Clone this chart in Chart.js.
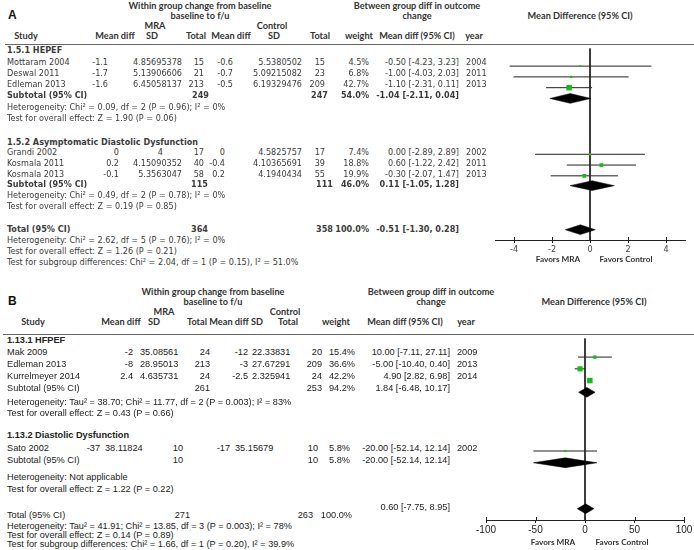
<!DOCTYPE html>
<html>
<head>
<meta charset="utf-8">
<title>MRA forest plots</title>
<script src="https://cdn.jsdelivr.net/npm/chart.js@4.4.1/dist/chart.umd.min.js"></script>
<style>
  html, body { margin: 0; padding: 0; background: #fff; }
  #page { position: relative; width: 694px; height: 550px; overflow: hidden; }
  .t { position: absolute; white-space: nowrap; line-height: 1; transform: translateY(-50%); }
  .a { font-family: "DejaVu Sans Condensed", "DejaVu Sans", sans-serif; font-size: 9px; color: #3c3c3c; }
  .b { font-family: "Liberation Sans", Arial, sans-serif; font-size: 9.2px; color: #222; }
  .h { font-family: Lato, "Open Sans", sans-serif; font-weight: bold; font-size: 9.2px; color: #333; }
  .fav { font-family: Lato, "Open Sans", sans-serif; font-weight: bold; font-size: 8.2px; color: #333; }
  .big { font-family: "Liberation Sans", Arial, sans-serif; font-weight: bold; font-size: 12px; color: #111; }
  .bold { font-weight: bold; }
  .rule { position: absolute; height: 1px; background: #666; }
  canvas { position: absolute; }
</style>
</head>
<body>
<div id="page">
  <canvas id="forestA"></canvas>
  <canvas id="forestB"></canvas>
</div>
<script>
// ---------- Panel A data ----------
const groupsA = ['1.5.1 HEPEF', '1.5.2 Asymptomatic Diastolic Dysfunction'];
const studiesA = ['Mottaram 2004', 'Deswal 2011', 'Edleman 2013', 'Grandi 2002', 'Kosmala 2011', 'Kosmala 2013'];
const studyGroupA = [0, 0, 0, 1, 1, 1];
const mraMeanA = ['-1.1', '-1.7', '-1.6', '0', '0.2', '-0.1'];
const mraSdA = ['4.85695378', '5.13906606', '6.45058137', '4', '4.15090352', '5.3563047'];
const mraTotalA = [15, 21, 213, 17, 40, 58];
const ctlMeanA = ['-0.6', '-0.7', '-0.5', '0', '-0.4', '0.2'];
const ctlSdA = ['5.5380502', '5.09215082', '6.19329476', '4.5825757', '4.10365691', '4.1940434'];
const ctlTotalA = [15, 23, 209, 17, 39, 55];
const weightA = [4.5, 6.8, 42.7, 7.4, 18.8, 19.9];
const mdA = [-0.50, -1.00, -1.10, 0.00, 0.60, -0.30];
const loA = [-4.23, -4.03, -2.31, -2.89, -1.22, -2.07];
const hiA = [3.23, 2.03, 0.11, 2.89, 2.42, 1.47];
const yearA = [2004, 2011, 2013, 2002, 2011, 2013];
const sumLabelA = ['Subtotal (95% CI)', 'Subtotal (95% CI)', 'Total (95% CI)'];
const sumMraTotalA = [249, 115, 364];
const sumCtlTotalA = [247, 111, 358];
const sumWeightA = [54.0, 46.0, 100.0];
const sumMdA = [-1.04, 0.11, -0.51];
const sumLoA = [-2.11, -1.05, -1.30];
const sumHiA = [0.04, 1.28, 0.28];
const hetA = [
  'Heterogeneity: Chi² = 0.09, df = 2 (P = 0.96); I² = 0%',
  'Heterogeneity: Chi² = 0.49, df = 2 (P = 0.78); I² = 0%',
  'Heterogeneity: Chi² = 2.62, df = 5 (P = 0.76); I² = 0%'
];
const effectA = [
  'Test for overall effect: Z = 1.90 (P = 0.06)',
  'Test for overall effect: Z = 0.19 (P = 0.85)',
  'Test for overall effect: Z = 1.26 (P = 0.21)'
];
const subgroupA = 'Test for subgroup differences: Chi² = 2.04, df = 1 (P = 0.15), I² = 51.0%';
const ticksA = [-4, -2, 0, 2, 4];

// ---------- Panel B data ----------
const groupsB = ['1.13.1 HFPEF', '1.13.2 Diastolic Dysfunction'];
const studiesB = ['Mak 2009', 'Edleman 2013', 'Kurrelmeyer 2014', 'Sato 2002'];
const studyGroupB = [0, 0, 0, 1];
const mraMeanB = ['-2', '-8', '2.4', '-37'];
const mraSdB = ['35.08561', '28.95013', '4.635731', '38.11824'];
const mraTotalB = [24, 213, 24, 10];
const ctlMeanB = ['-12', '-3', '-2.5', '-17'];
const ctlSdB = ['22.33831', '27.67291', '2.325941', '35.15679'];
const ctlTotalB = [20, 209, 24, 10];
const weightB = [15.4, 36.6, 42.2, 5.8];
const mdB = [10.00, -5.00, 4.90, -20.00];
const loB = [-7.11, -10.40, 2.82, -52.14];
const hiB = [27.11, 0.40, 6.98, 12.14];
const yearB = [2009, 2013, 2014, 2002];
const sumLabelB = ['Subtotal (95% CI)', 'Subtotal (95% CI)', 'Total (95% CI)'];
const sumMraTotalB = [261, 10, 271];
const sumCtlTotalB = [253, 10, 263];
const sumWeightB = [94.2, 5.8, 100.0];
const sumMdB = [1.84, -20.00, 0.60];
const sumLoB = [-6.48, -52.14, -7.75];
const sumHiB = [10.17, 12.14, 8.95];
const hetB = [
  'Heterogeneity: Tau² = 38.70; Chi² = 11.77, df = 2 (P = 0.003); I² = 83%',
  'Heterogeneity: Not applicable',
  'Heterogeneity: Tau² = 41.91; Chi² = 13.85, df = 3 (P = 0.003); I² = 78%'
];
const effectB = [
  'Test for overall effect: Z = 0.43 (P = 0.66)',
  'Test for overall effect: Z = 1.22 (P = 0.22)',
  'Test for overall effect: Z = 0.14 (P = 0.89)'
];
const subgroupB = 'Test for subgroup differences: Chi² = 1.66, df = 1 (P = 0.20), I² = 39.9%';
const ticksB = [-100, -50, 0, 50, 100];

// ---------- layout (page pixels) ----------
const GREEN = '#12bd12';
const AXIS_H = 22;     // room under the axis line for tick labels
const DIAMOND_H = 5;   // half height of summary diamonds
const SQUARE_K = 0.6;  // square radius per sqrt(weight)

const layoutA = {
  cls: 'a', ruleY: 44, ruleX: 5, top: 44, axisY: 240,
  areaLeft: 495, areaRight: 685, canvasLeft: 470, xMin: -5, xMax: 5,
  groupY: [50, 142], studyY: [62, 73, 84, 152, 163, 174],
  sumY: [95, 184, 229], sumCiY: [95, 184, 229], hetY: [107, 195, 240], effectY: [118, 206, 251], subgroupY: 262,
  sdAlign: 'right', boldSums: true,
  cols: [
    { mean: 108, sd: 182, sdShort: 163, tot: 204, cmean: 233, csd: 302, ctot: 325, weight: 369, ci: 459, year: 466 },
    { mean: 119, sd: 182, sdShort: 163, tot: 204, cmean: 225, csd: 302, ctot: 325, weight: 369, ci: 459, year: 466 }
  ],
  sumCols: [
    { tot: 209, ctot: 328, weight: 369, ci: 459 },
    { tot: 208, ctot: 333, weight: 369, ci: 459 },
    { tot: 208, ctot: 333, weight: 369, ci: 459 }
  ],
  favY: 259, favMra: 558, favCtl: 626,
  tickFont: { family: '"DejaVu Sans Condensed", "DejaVu Sans", sans-serif', size: 9 }, tickColor: '#444'
};

const layoutB = {
  cls: 'b', ruleY: 334, ruleX: 3, top: 334, axisY: 520,
  areaLeft: 486, areaRight: 684, canvasLeft: 460, xMin: -100, xMax: 100,
  groupY: [341, 436], studyY: [353, 365, 377, 449],
  sumY: [389, 461, 516], sumCiY: [389, 461, 508], hetY: [403, 478, 527], effectY: [414, 490, 536], subgroupY: 545,
  sdAlign: 'left', boldSums: false,
  cols: [
    { mean: 133, sd: 140, tot: 210, cmean: 248, csd: 252, ctot: 322, weight: 355, ci: 450, year: 457 },
    { mean: 100, sd: 105, tot: 183, cmean: 230, csd: 235, ctot: 318, weight: 350, ci: 450, year: 457 }
  ],
  sumCols: [
    { tot: 210, ctot: 322, weight: 355, ci: 450 },
    { tot: 183, ctot: 318, weight: 350, ci: 450 },
    { tot: 190, ctot: 313, weight: 352, ci: 450 }
  ],
  favY: 542, favMra: 553, favCtl: 622,
  tickFont: { family: '"Liberation Sans", Arial, sans-serif', size: 10 }, tickColor: '#222'
};

// ---------- text helpers ----------
const page = document.getElementById('page');

function put(text, x, y, cls, align) {
  const d = document.createElement('div');
  d.className = 't ' + cls;
  d.textContent = String(text);
  if (align === 'right') {
    d.style.right = (694 - x) + 'px';
  } else if (align === 'center') {
    d.style.left = x + 'px';
    d.style.transform = 'translate(-50%, -50%)';
  } else {
    d.style.left = x + 'px';
  }
  d.style.top = y + 'px';
  page.appendChild(d);
}

function rule(x, y) {
  const r = document.createElement('div');
  r.className = 'rule';
  r.style.left = x + 'px';
  r.style.top = y + 'px';
  r.style.width = (694 - x) + 'px';
  page.appendChild(r);
}

function ciText(m, l, h) {
  return m.toFixed(2) + ' [' + l.toFixed(2) + ', ' + h.toFixed(2) + ']';
}

function headers(letter, y0, cx) {
  // y0 = first header line, cx = column centres
  put(letter, 8, y0 + 9, 'big');
  put('Within group change from baseline', cx.within, y0, 'h', 'center');
  put('baseline to f/u', cx.within, y0 + 10, 'h', 'center');
  put('MRA', cx.mra, y0 + 20, 'h', 'center');
  put('Control', cx.ctl, y0 + 20, 'h', 'center');
  put('Between group diff in outcome', cx.between, y0, 'h', 'center');
  put('change', cx.between, y0 + 10, 'h', 'center');
  put('Mean Difference (95% CI)', cx.forest, y0 + 10, 'h', 'center');
  const names = ['Study', 'Mean diff', 'SD', 'Total', 'Mean diff', 'SD', 'Total', 'weight', 'Mean diff (95% CI)', 'year'];
  names.forEach((n, i) => put(n, cx.cols[i], y0 + 30, 'h', 'center'));
}

function table(p, L) {
  const c0 = L.cls;
  const sb = L.boldSums ? ' bold' : '';
  p.groups.forEach((g, k) => put(g, 7, L.groupY[k], c0 + ' bold'));
  p.studies.forEach((s, i) => {
    const c = L.cols[p.studyGroup[i]];
    const y = L.studyY[i];
    put(s, 7, y, c0);
    put(p.mraMean[i], c.mean, y, c0, 'right');
    if (L.sdAlign === 'right') {
      put(p.mraSd[i], p.mraSd[i].includes('.') ? c.sd : c.sdShort, y, c0, 'right');
      put(p.ctlSd[i], c.csd, y, c0, 'right');
    } else {
      put(p.mraSd[i], c.sd, y, c0);
      put(p.ctlSd[i], c.csd, y, c0);
    }
    put(p.mraTotal[i], c.tot, y, c0, 'right');
    put(p.ctlMean[i], c.cmean, y, c0, 'right');
    put(p.ctlTotal[i], c.ctot, y, c0, 'right');
    put(p.weight[i].toFixed(1) + '%', c.weight, y, c0, 'right');
    put(ciText(p.md[i], p.lo[i], p.hi[i]), c.ci, y, c0, 'right');
    put(p.year[i], c.year, y, c0);
  });
  p.sumLabel.forEach((s, k) => {
    const c = L.sumCols[k];
    const y = L.sumY[k];
    put(s, 7, y, c0 + sb);
    put(p.sumMraTotal[k], c.tot, y, c0 + sb, 'right');
    put(p.sumCtlTotal[k], c.ctot, y, c0 + sb, 'right');
    put(p.sumWeight[k].toFixed(1) + '%', c.weight, y, c0 + sb, 'right');
    put(ciText(p.sumMd[k], p.sumLo[k], p.sumHi[k]), c.ci, L.sumCiY[k], c0 + sb, 'right');
    put(p.het[k], 7, L.hetY[k], c0);
    put(p.effect[k], 7, L.effectY[k], c0);
  });
  put(p.subgroup, 7, L.subgroupY, c0);
  put('Favors MRA', L.favMra, L.favY, 'fav', 'center');
  put('Favors Control', L.favCtl, L.favY, 'fav', 'center');
  rule(L.ruleX, L.ruleY);
}

// ---------- forest plot (Chart.js) ----------
Chart.defaults.animation = false;
Chart.defaults.events = [];
Chart.defaults.plugins.legend.display = false;
Chart.defaults.plugins.tooltip.enabled = false;

// small tick marks poking above the axis line, as in RevMan plots
const tickUp = {
  id: 'tickUp',
  afterDraw(chart) {
    const s = chart.scales.x;
    const y = chart.chartArea.bottom;
    const ctx = chart.ctx;
    ctx.save();
    ctx.strokeStyle = '#222';
    ctx.lineWidth = 1;
    s.ticks.forEach(t => {
      const x = Math.round(s.getPixelForValue(t.value)) + 0.5;
      ctx.beginPath();
      ctx.moveTo(x, y - 3);
      ctx.lineTo(x, y);
      ctx.stroke();
    });
    ctx.restore();
  }
};

function forest(id, p, L) {
  const canvas = document.getElementById(id);
  const w = 694 - L.canvasLeft;
  const h = L.axisY - L.top + AXIS_H;
  canvas.width = w;
  canvas.height = h;
  canvas.style.left = L.canvasLeft + 'px';
  canvas.style.top = L.top + 'px';

  const datasets = [];
  // study squares, size by weight
  datasets.push({
    data: p.md.map((v, i) => ({ x: v, y: L.studyY[i] })),
    showLine: false,
    pointStyle: 'rect',
    pointRadius: p.weight.map(wt => SQUARE_K * Math.sqrt(wt)),
    pointBackgroundColor: GREEN,
    pointBorderWidth: 0,
    order: 0
  });
  // summary diamonds
  p.sumMd.forEach((m, k) => {
    const y = L.sumCiY[k];
    datasets.push({
      data: [
        { x: p.sumLo[k], y: y }, { x: m, y: y - DIAMOND_H },
        { x: p.sumHi[k], y: y }, { x: m, y: y + DIAMOND_H }, { x: p.sumLo[k], y: y }
      ],
      fill: 'shape',
      backgroundColor: '#000',
      borderColor: '#000',
      borderWidth: 0.5,
      pointRadius: 0,
      order: 1
    });
  });
  // confidence intervals
  p.md.forEach((m, i) => {
    const y = L.studyY[i];
    datasets.push({
      data: [{ x: p.lo[i], y: y }, { x: p.hi[i], y: y }],
      borderColor: '#222',
      borderWidth: 1,
      pointRadius: 0,
      order: 2
    });
  });
  // line of no effect
  datasets.push({
    data: [{ x: 0, y: L.top }, { x: 0, y: L.axisY }],
    borderColor: '#222',
    borderWidth: 1,
    pointRadius: 0,
    order: 3
  });

  return new Chart(canvas, {
    type: 'line',
    data: { datasets },
    options: {
      responsive: false,
      devicePixelRatio: 1,
      layout: { padding: { left: L.areaLeft - L.canvasLeft, right: 694 - L.areaRight, top: 0, bottom: 0 } },
      scales: {
        x: {
          type: 'linear',
          min: L.xMin,
          max: L.xMax,
          afterBuildTicks: s => { s.ticks = p.ticks.map(v => ({ value: v })); },
          afterFit: s => { s.height = AXIS_H; },
          grid: { drawOnChartArea: false, drawTicks: true, tickLength: 3, color: '#222' },
          border: { display: true, color: '#222', width: 1 },
          ticks: { autoSkip: false, maxRotation: 0, padding: 1, color: L.tickColor, font: L.tickFont }
        },
        y: {
          type: 'linear',
          display: false,
          reverse: true,
          min: L.top - 0.5,
          max: L.axisY - 0.5
        }
      }
    },
    plugins: [tickUp]
  });
}

const panelA = {
  groups: groupsA, studies: studiesA, studyGroup: studyGroupA,
  mraMean: mraMeanA, mraSd: mraSdA, mraTotal: mraTotalA,
  ctlMean: ctlMeanA, ctlSd: ctlSdA, ctlTotal: ctlTotalA,
  weight: weightA, md: mdA, lo: loA, hi: hiA, year: yearA,
  sumLabel: sumLabelA, sumMraTotal: sumMraTotalA, sumCtlTotal: sumCtlTotalA, sumWeight: sumWeightA,
  sumMd: sumMdA, sumLo: sumLoA, sumHi: sumHiA,
  het: hetA, effect: effectA, subgroup: subgroupA, ticks: ticksA
};
const panelB = {
  groups: groupsB, studies: studiesB, studyGroup: studyGroupB,
  mraMean: mraMeanB, mraSd: mraSdB, mraTotal: mraTotalB,
  ctlMean: ctlMeanB, ctlSd: ctlSdB, ctlTotal: ctlTotalB,
  weight: weightB, md: mdB, lo: loB, hi: hiB, year: yearB,
  sumLabel: sumLabelB, sumMraTotal: sumMraTotalB, sumCtlTotal: sumCtlTotalB, sumWeight: sumWeightB,
  sumMd: sumMdB, sumLo: sumLoB, sumHi: sumHiB,
  het: hetB, effect: effectB, subgroup: subgroupB, ticks: ticksB
};

headers('A', 6, { within: 200, mra: 155, ctl: 272, between: 417, forest: 580,
  cols: [26, 115, 152, 196, 231, 274, 320, 359, 417, 474] });
headers('B', 292, { within: 213, mra: 164, ctl: 285, between: 431, forest: 594,
  cols: [33, 121, 154, 197, 229, 257, 288, 336, 405, 466] });

table(panelA, layoutA);
table(panelB, layoutB);
forest('forestA', panelA, layoutA);
forest('forestB', panelB, layoutB);
</script>
</body>
</html>
